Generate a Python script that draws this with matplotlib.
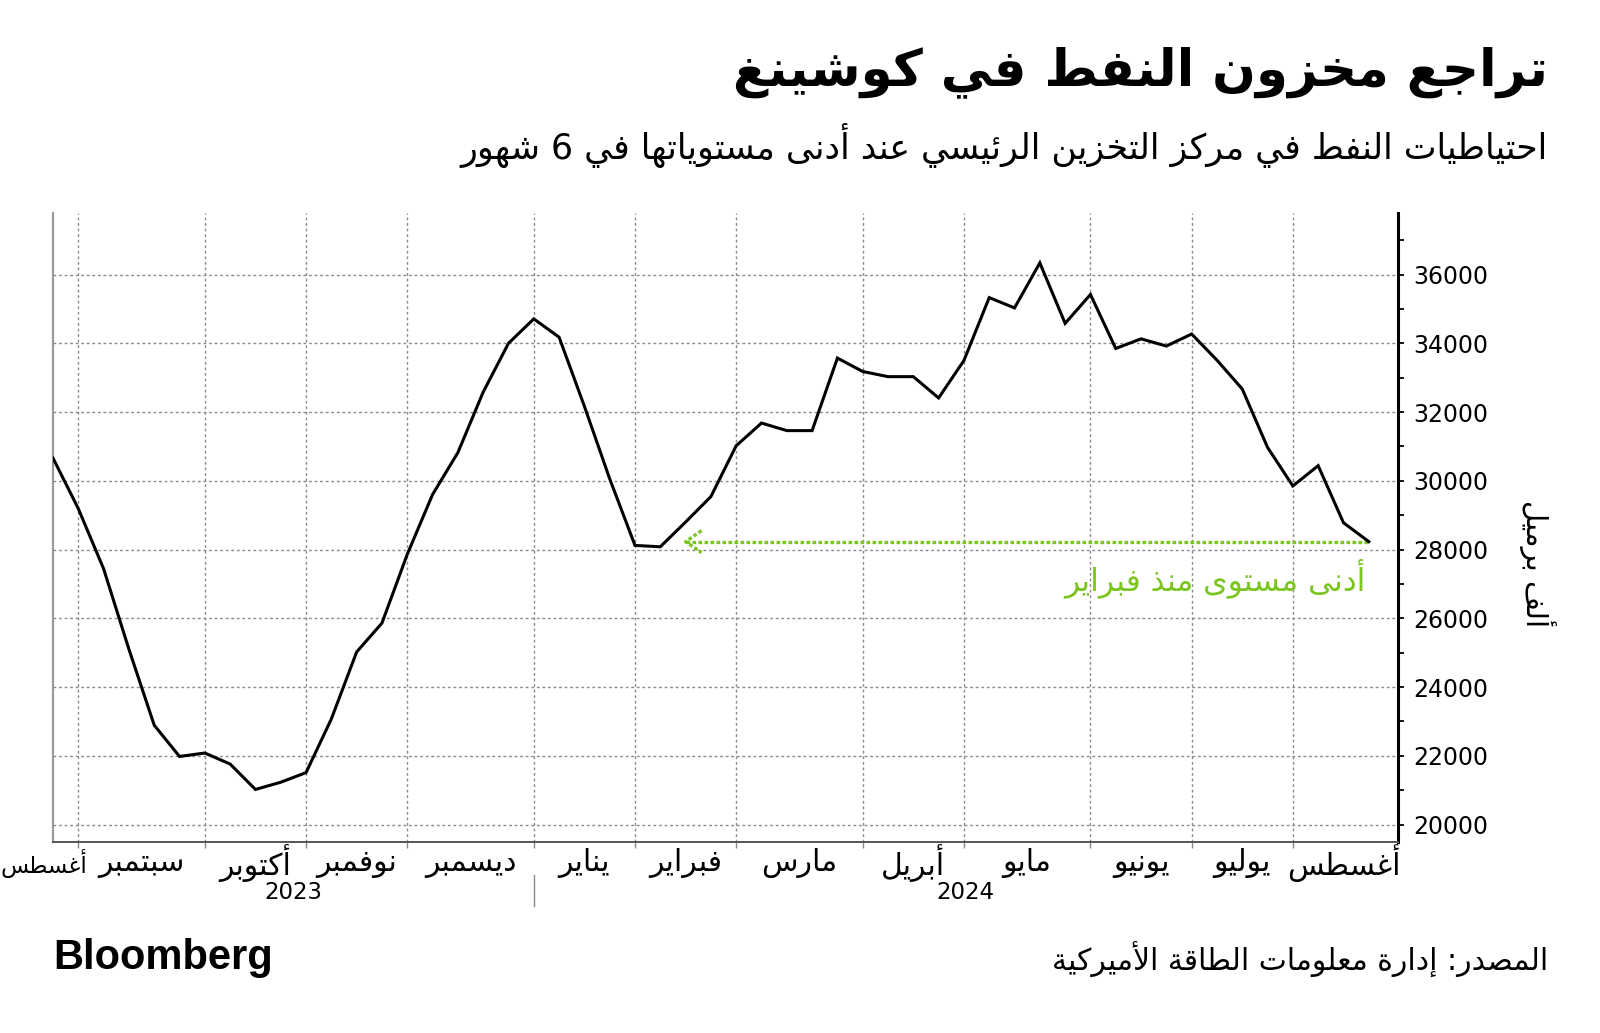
import re
import matplotlib
matplotlib.use("Agg")
import matplotlib.pyplot as plt
import matplotlib.dates as mdates
import matplotlib.transforms as mtransforms
from matplotlib.ticker import MultipleLocator, FixedLocator, NullFormatter
import pandas as pd
import numpy as np

# ---------------- data ----------------
title = "تراجع مخزون النفط في كوشينغ"
subtitle = "احتياطيات النفط في مركز التخزين الرئيسي عند أدنى مستوياتها في 6 شهور"
y_label = "ألف برميل"
annotation_text = "أدنى مستوى منذ فبراير"
source = "المصدر: إدارة معلومات الطاقة الأميركية"
month_labels = ["أغسطس", "سبتمبر", "أكتوبر", "نوفمبر", "ديسمبر", "يناير", "فبراير",
                "مارس", "أبريل", "مايو", "يونيو", "يوليو", "أغسطس"]
year_labels = ["2023", "2024"]
first_week = "2023-08-25"
stocks = [30660, 29190, 27440, 25100, 22890, 21980, 22080, 21760, 21020, 21230,
          21510, 23070, 25020, 25860, 27860, 29600, 30820, 32580, 34000, 34710,
          34180, 32170, 30060, 28120, 28080, 28800, 29540, 31020, 31680, 31460,
          31460, 33570, 33180, 33030, 33030, 32410, 33500, 35330, 35030, 36340,
          34580, 35420, 33850, 34130, 33920, 34270, 33510, 32670, 30970, 29850,
          30440, 28780, 28230]
yticks = [20000, 22000, 24000, 26000, 28000, 30000, 32000, 34000, 36000]
low_since = "2024-02-16"
x_end = "2024-08-31"

dates = pd.date_range(first_week, periods=len(stocks), freq="7D")

# ---------------- Arabic shaping helper ----------------
_RJ = {'\u0622': 0xFE81, '\u0623': 0xFE83, '\u0624': 0xFE85, '\u0625': 0xFE87,
       '\u0627': 0xFE8D, '\u0629': 0xFE93, '\u062F': 0xFEA9, '\u0630': 0xFEAB,
       '\u0631': 0xFEAD, '\u0632': 0xFEAF, '\u0648': 0xFEED, '\u0649': 0xFEEF}
_DJ = {'\u0626': 0xFE89, '\u0628': 0xFE8F, '\u062A': 0xFE95, '\u062B': 0xFE99,
       '\u062C': 0xFE9D, '\u062D': 0xFEA1, '\u062E': 0xFEA5, '\u0633': 0xFEB1,
       '\u0634': 0xFEB5, '\u0635': 0xFEB9, '\u0636': 0xFEBD, '\u0637': 0xFEC1,
       '\u0638': 0xFEC5, '\u0639': 0xFEC9, '\u063A': 0xFECD, '\u0641': 0xFED1,
       '\u0642': 0xFED5, '\u0643': 0xFED9, '\u0644': 0xFEDD, '\u0645': 0xFEE1,
       '\u0646': 0xFEE5, '\u0647': 0xFEE9, '\u064A': 0xFEF1}
_LA = {'\u0622': 0xFEF5, '\u0623': 0xFEF7, '\u0625': 0xFEF9, '\u0627': 0xFEFB}


def ar(s):
    units = []
    i = 0
    while i < len(s):
        if s[i] == '\u0644' and i + 1 < len(s) and s[i + 1] in _LA:
            units.append(('LA', s[i + 1]))
            i += 2
        else:
            units.append(('C', s[i]))
            i += 1

    def joins_next(u):
        return u[0] == 'C' and u[1] in _DJ

    def joins_prev(u):
        return u[0] == 'LA' or u[1] in _DJ or u[1] in _RJ

    out = []
    n = len(units)
    for k, u in enumerate(units):
        pc = k > 0 and joins_next(units[k - 1]) and joins_prev(u)
        nc = k < n - 1 and joins_next(u) and joins_prev(units[k + 1])
        if u[0] == 'LA':
            out.append(chr(_LA[u[1]] + (1 if pc else 0)))
        elif u[1] in _DJ:
            off = 3 if (pc and nc) else 1 if pc else 2 if nc else 0
            out.append(chr(_DJ[u[1]] + off))
        elif u[1] in _RJ:
            out.append(chr(_RJ[u[1]] + (1 if pc else 0)))
        elif u[1] == '\u0621':
            out.append('\uFE80')
        else:
            out.append(u[1])
    shaped = ''.join(out)
    tokens = re.findall(r'\d+|\D', shaped)
    return ''.join(reversed(tokens))


# ---------------- figure ----------------
plt.rcParams['font.family'] = ['DejaVu Sans']
W, H = 1600, 1033
fig = plt.figure(figsize=(W / 100, H / 100), dpi=100)
ax_l, ax_r, ax_t, ax_b = 53, 1397.7, 212.7, 841.7
ax = fig.add_axes([ax_l / W, 1 - ax_b / H, (ax_r - ax_l) / W, (ax_b - ax_t) / H])

GREEN = '#7cc520'
GRID = '#8a8a8a'

ax.plot(dates, stocks, color='black', lw=2.2, solid_joinstyle='miter', zorder=5)

x0 = mdates.date2num(dates[0])
x1 = mdates.date2num(pd.Timestamp(x_end))
ax.set_xlim(x0, x1)
ax.set_ylim(19500, 37800)

# month boundaries (first weekly observation of each month)
bounds = [dates[i] for i in range(1, len(dates)) if dates[i].month != dates[i - 1].month]
bnum = [mdates.date2num(d) for d in bounds]

ax.xaxis.set_major_locator(FixedLocator(bnum))
ax.xaxis.set_major_formatter(NullFormatter())
ax.tick_params(axis='x', which='major', length=4, width=1, color=GRID, direction='out')

# y axis on the right
ax.yaxis.tick_right()
ax.set_yticks(yticks)
ax.set_yticklabels([str(v) for v in yticks])
ax.yaxis.set_minor_locator(MultipleLocator(1000))
ax.tick_params(axis='y', which='both', length=4, width=1.3, color='black',
               direction='out', pad=7, labelsize=17)

ax.spines['top'].set_visible(False)
ax.spines['right'].set_color('black')
ax.spines['right'].set_linewidth(2.2)
ax.spines['left'].set_color('#9a9a9a')
ax.spines['left'].set_linewidth(1.6)
ax.spines['bottom'].set_color('#555555')
ax.spines['bottom'].set_linewidth(1.4)

# gridlines
for v in yticks:
    ax.axhline(v, color=GRID, lw=1, ls=(0, (2, 2)), zorder=1)
for b in bnum:
    ax.axvline(b, color=GRID, lw=1, ls=(0, (2, 2)), zorder=1)

# month labels centred between boundaries
edges = [bnum[0] - 28] + bnum + [bnum[-1] + 28]
trans = mtransforms.blended_transform_factory(ax.transData, ax.transAxes)
for k, lab in enumerate(month_labels):
    if k == 0:
        fig.text(1.0 / W, 1 - 863 / H, ar(lab), ha='left', va='center',
                 fontsize=16.5)
    else:
        xc = (edges[k] + edges[k + 1]) / 2
        ax.text(xc, -0.034, ar(lab), transform=trans, ha='center', va='center',
                fontsize=21.5, clip_on=False)

# year labels and separator
jan = mdates.date2num(pd.Timestamp(bounds[4]))
ax.text((x0 + jan) / 2, -0.08, year_labels[0], transform=trans, ha='center',
        va='center', fontsize=16.5)
ax.text((jan + x1) / 2, -0.08, year_labels[1], transform=trans, ha='center',
        va='center', fontsize=16.5)
ax.plot([jan, jan], [-0.053, -0.102], transform=trans, color='#888888', lw=1,
        clip_on=False)

# annotation arrow (dotted shaft + dotted open chevron head)
tip = mdates.date2num(pd.Timestamp(low_since))
yl = stocks[-1]
dot = (0, (1.1, 0.7))
ax.plot([tip, mdates.date2num(dates[-1])], [yl, yl], color=GREEN, lw=2.4, ls=dot,
        zorder=4)
head_dx = 4.4      # days
head_dy = 320      # thousand barrels
ax.plot([tip + head_dx, tip, tip + head_dx], [yl + head_dy, yl, yl - head_dy],
        color=GREEN, lw=2.4, ls=dot, zorder=4)
ax.text(mdates.date2num(dates[-1]) - 1, yl - 1050, ar(annotation_text),
        ha='right', va='center', fontsize=22.5, color=GREEN)

# y label
fig.text(1537 / W, 1 - 564 / H, ar(y_label), rotation=-90, ha='center',
         va='center', fontsize=21)

# titles
fig.text(1548 / W, 1 - 72 / H, ar(title), ha='right', va='center',
         fontsize=37, fontweight='bold')
fig.text(1548 / W, 1 - 146 / H, ar(subtitle), ha='right', va='center',
         fontsize=25)

# footer
fig.text(53 / W, 1 - 958 / H, "Bloomberg", ha='left', va='center',
         fontsize=30, fontweight='bold', family='Liberation Sans')
fig.text(1548 / W, 1 - 960 / H, ar(source), ha='right', va='center',
         fontsize=21.5)

fig.savefig('out.png', dpi=100, facecolor='white')
